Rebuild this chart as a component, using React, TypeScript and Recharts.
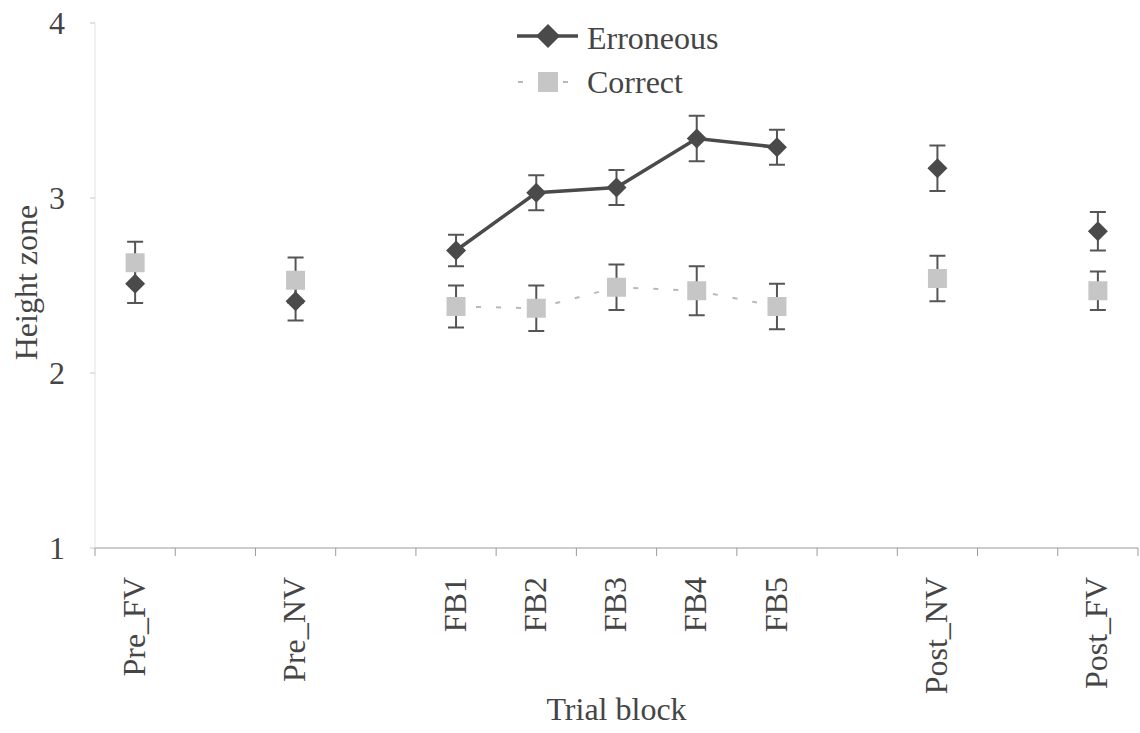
import React from 'react';
import { LineChart, Line, XAxis, YAxis, ErrorBar, Legend, Label } from 'recharts';

const categories = ['Pre_FV', 'Pre_NV', 'FB1', 'FB2', 'FB3', 'FB4', 'FB5', 'Post_NV', 'Post_FV'];
const erroneousMean = [2.51, 2.41, 2.7, 3.03, 3.06, 3.34, 3.29, 3.17, 2.81];
const erroneousErr = [0.11, 0.11, 0.09, 0.1, 0.1, 0.13, 0.1, 0.13, 0.11];
const correctMean = [2.63, 2.53, 2.38, 2.37, 2.49, 2.47, 2.38, 2.54, 2.47];
const correctErr = [0.12, 0.13, 0.12, 0.13, 0.13, 0.14, 0.13, 0.13, 0.11];
const yTicks = [1, 2, 3, 4];
const seriesNames = ['Erroneous', 'Correct'];

const FONT = "'Liberation Serif', 'Times New Roman', serif";
const TEXT = '#454545';
const ERR_COLOR = '#4a4a4a';
const CORR_COLOR = '#c6c6c6';
const FS = 32;

const W = 1140;
const H = 733;
const MARGIN = { top: 23, right: 2, bottom: 0, left: 0 };
const Y_AXIS_W = 95;
const X_AXIS_H = 185;
const PLOT_W = W - MARGIN.left - MARGIN.right - Y_AXIS_W;

const isFeedback = (c: string) => c.startsWith('FB');

type Row = {
  slot: string;
  label: string;
  err: number | null;
  errE: number | null;
  corr: number | null;
  corrE: number | null;
  errLine: number | null;
  corrLine: number | null;
};

const rows: Row[] = [];
categories.forEach((c, i) => {
  if (i > 0 && !(isFeedback(categories[i - 1]) && isFeedback(c))) {
    rows.push({ slot: `gap-${i}`, label: '', err: null, errE: null, corr: null, corrE: null, errLine: null, corrLine: null });
  }
  rows.push({
    slot: c,
    label: c,
    err: erroneousMean[i],
    errE: erroneousErr[i],
    corr: correctMean[i],
    corrE: correctErr[i],
    errLine: isFeedback(c) ? erroneousMean[i] : null,
    corrLine: isFeedback(c) ? correctMean[i] : null,
  });
});

const BAND = PLOT_W / rows.length;

const XTick = (props: any) => {
  const { x, y, payload, index } = props;
  const half = typeof payload?.offset === 'number' && payload.offset > 0 ? payload.offset : BAND / 2;
  const row = rows[index];
  const label = row ? row.label : '';
  const ty = y + 29;
  return (
    <g>
      <line x1={x - half} x2={x - half} y1={y} y2={y + 8} stroke="#9a9a9a" strokeWidth={1} />
      {index === rows.length - 1 && (
        <line x1={x + half} x2={x + half} y1={y} y2={y + 8} stroke="#9a9a9a" strokeWidth={1} />
      )}
      {label && (
        <text
          x={x - 1}
          y={ty}
          dy="0.33em"
          transform={`rotate(-90, ${x - 1}, ${ty})`}
          textAnchor="end"
          fontFamily={FONT}
          fontSize={FS}
          fill={TEXT}
        >
          {label}
        </text>
      )}
    </g>
  );
};

const Diamond = (props: any) => {
  const { cx, cy, index } = props;
  if (cx == null || cy == null || isNaN(cy)) return <g key={`d-${index}`} />;
  const r = 10;
  return (
    <polygon
      key={`d-${index}`}
      points={`${cx},${cy - r} ${cx + r},${cy} ${cx},${cy + r} ${cx - r},${cy}`}
      fill={ERR_COLOR}
    />
  );
};

const Square = (props: any) => {
  const { cx, cy, index } = props;
  if (cx == null || cy == null || isNaN(cy)) return <g key={`s-${index}`} />;
  const s = 19;
  return <rect key={`s-${index}`} x={cx - s / 2} y={cy - s / 2} width={s} height={s} fill={CORR_COLOR} />;
};

const LegendContent = () => (
  <div style={{ fontFamily: FONT, color: TEXT }}>
    <div style={{ display: 'flex', alignItems: 'center', height: 44 }}>
      <svg width={64} height={30} style={{ display: 'block' }}>
        <line x1={2} x2={63} y1={13} y2={13} stroke={ERR_COLOR} strokeWidth={3.5} />
        <polygon points="33,1 45,13 33,25 21,13" fill={ERR_COLOR} />
      </svg>
      <span style={{ marginLeft: 8, fontSize: FS, lineHeight: '32px' }}>{seriesNames[0]}</span>
    </div>
    <div style={{ display: 'flex', alignItems: 'center', height: 44 }}>
      <svg width={64} height={30} style={{ display: 'block' }}>
        <line x1={3} x2={8} y1={15} y2={15} stroke="#b8b8b8" strokeWidth={2} />
        <line x1={48} x2={53} y1={15} y2={15} stroke="#b8b8b8" strokeWidth={2} />
        <rect x={23} y={5} width={20} height={20} fill={CORR_COLOR} />
      </svg>
      <span style={{ marginLeft: 8, fontSize: FS, lineHeight: '32px' }}>{seriesNames[1]}</span>
    </div>
  </div>
);

export default function App() {
  return (
    <div style={{ position: 'absolute', left: 0, top: 0, width: W, height: H, background: '#fff' }}>
      <LineChart width={W} height={H} data={rows} margin={MARGIN} style={{ fontFamily: FONT }}>
        <XAxis
          dataKey="slot"
          type="category"
          scale="band"
          interval={0}
          height={X_AXIS_H}
          tickSize={0}
          tickMargin={0}
          tickLine={false}
          axisLine={{ stroke: '#9a9a9a', strokeWidth: 1 }}
          tick={<XTick />}
        >
          <Label
            content={(p: any) => {
              const vb = p.viewBox || { x: 95, y: 548, width: PLOT_W, height: X_AXIS_H };
              return (
                <text
                  x={vb.x + vb.width / 2}
                  y={720}
                  textAnchor="middle"
                  fontFamily={FONT}
                  fontSize={FS}
                  fill={TEXT}
                >
                  Trial block
                </text>
              );
            }}
          />
        </XAxis>
        <YAxis
          type="number"
          domain={[1, 4]}
          ticks={yTicks}
          width={Y_AXIS_W}
          tickSize={5}
          tickMargin={25}
          tickLine={{ stroke: '#c8c8c8' }}
          axisLine={{ stroke: '#e2e2e2', strokeWidth: 1 }}
          tick={{ fill: TEXT, fontSize: FS, fontFamily: FONT }}
        >
          <Label
            content={(p: any) => {
              const vb = p.viewBox || { x: 0, y: 23, width: Y_AXIS_W, height: 525 };
              const cx = vb.x + 26;
              const cy = vb.y + vb.height / 2 - 3;
              return (
                <text
                  x={cx}
                  y={cy}
                  dy="0.35em"
                  transform={`rotate(-90, ${cx}, ${cy})`}
                  textAnchor="middle"
                  fontFamily={FONT}
                  fontSize={FS}
                  fill={TEXT}
                >
                  Height zone
                </text>
              );
            }}
          />
        </YAxis>
        <Legend
          layout="horizontal"
          verticalAlign="middle"
          align="center"
          content={() => <LegendContent />}
          wrapperStyle={{ top: 16, left: 515, width: 260, height: 95 }}
        />
        <Line
          dataKey="corrLine"
          stroke="#b8b8b8"
          strokeWidth={2}
          strokeDasharray="5 15"
          dot={false}
          activeDot={false}
          connectNulls={false}
          isAnimationActive={false}
          legendType="none"
        />
        <Line
          dataKey="errLine"
          stroke={ERR_COLOR}
          strokeWidth={3.5}
          dot={false}
          activeDot={false}
          connectNulls={false}
          isAnimationActive={false}
          legendType="none"
        />
        <Line
          dataKey="corr"
          name={seriesNames[1]}
          stroke="none"
          dot={(p: any) => <Square {...p} />}
          activeDot={false}
          isAnimationActive={false}
        >
          <ErrorBar dataKey="corrE" direction="y" width={8} strokeWidth={2} stroke="#555" />
        </Line>
        <Line
          dataKey="err"
          name={seriesNames[0]}
          stroke="none"
          dot={(p: any) => <Diamond {...p} />}
          activeDot={false}
          isAnimationActive={false}
        >
          <ErrorBar dataKey="errE" direction="y" width={8} strokeWidth={2} stroke="#555" />
        </Line>
      </LineChart>
    </div>
  );
}
